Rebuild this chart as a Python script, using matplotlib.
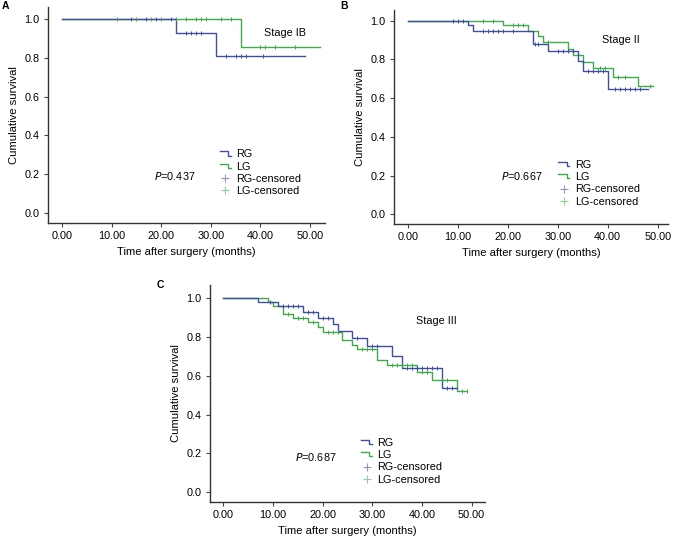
import numpy as np
import matplotlib
matplotlib.use("Agg")
import matplotlib.pyplot as plt
from matplotlib.legend_handler import HandlerBase
from matplotlib.lines import Line2D

plt.rcParams["font.family"] = ["Liberation Sans", "DejaVu Sans"]

# ── Data: Kaplan-Meier step curves (time in months, survival) ────────────────
A_RG_T = [0, 23, 31, 49]
A_RG_S = [1.0, 0.929, 0.813, 0.813]
A_LG_T = [0, 36, 52]
A_LG_S = [1.0, 0.857, 0.857]
A_RG_CENS = [14, 17, 19, 22, 25, 26, 27, 28, 33, 35, 36, 37, 40.6]
A_LG_CENS = [11, 15, 18, 20, 23, 25, 27, 28, 29, 32, 34, 40, 41, 43, 47]

B_RG_T = [0, 12, 13, 25, 28, 34, 35, 40, 48]
B_RG_S = [1.0, 0.976, 0.948, 0.881, 0.843, 0.792, 0.740, 0.647, 0.647]
B_LG_T = [0, 19, 24, 26, 27, 32, 33, 35, 37, 41, 46, 49]
B_LG_S = [1.0, 0.976, 0.948, 0.921, 0.888, 0.852, 0.823, 0.788, 0.754, 0.711, 0.664, 0.664]
B_RG_CENS = [9, 10, 11, 15, 16, 17, 18, 19, 21, 25.5, 26, 30, 31, 32, 33,
             36, 37, 38, 39, 41.5, 42.5, 43.5, 44.5, 45.5, 46.5]
B_LG_CENS = [15, 17, 21, 22, 23, 28, 38.5, 39.5, 42, 43.5, 48.5]

C_RG_T = [0, 7, 11, 16, 19, 22, 23, 26, 29, 34, 36, 44, 47]
C_RG_S = [1.0, 0.979, 0.960, 0.931, 0.901, 0.867, 0.832, 0.793, 0.753, 0.703, 0.642, 0.537, 0.537]
C_LG_T = [0, 9, 10, 12, 14, 17, 19, 20, 24, 26, 27, 31, 33, 39, 42, 47, 49]
C_LG_S = [1.0, 0.979, 0.960, 0.919, 0.896, 0.876, 0.850, 0.827, 0.784, 0.761, 0.736,
          0.680, 0.654, 0.619, 0.576, 0.519, 0.519]
C_RG_CENS = [9.5, 12, 13, 14, 15, 17, 18, 20, 21, 27, 30, 31,
             37, 38, 39, 40, 41, 42, 43, 45, 46]
C_LG_CENS = [13, 15, 16, 18, 21, 22, 23, 28, 29, 30, 34, 35, 36, 37, 38,
             40, 41, 44, 45, 48, 49]

STAGES = ["Stage IB", "Stage II", "Stage III"]
P_VALUES = ["0.437", "0.667", "0.687"]
XTICKS = [0, 10, 20, 30, 40, 50]
YTICKS = [0.0, 0.2, 0.4, 0.6, 0.8, 1.0]

RG_COL = "#3f4fa0"
LG_COL = "#3eaa4c"
RG_CEN = "#8e95bb"
LG_CEN = "#8fcf98"
FS = 7.8

W, H = 673, 543


class StepHandler(HandlerBase):
    def create_artists(self, legend, orig, xd, yd, width, height, fontsize, trans):
        x = [xd, xd + width * 0.75, xd + width * 0.75, xd + width]
        y = [yd + height * 0.75, yd + height * 0.75, yd + height * 0.2, yd + height * 0.2]
        ln = Line2D(x, y, color=orig.get_color(), lw=1.0, transform=trans)
        return [ln]


def surv_at(t, times, surv):
    idx = np.searchsorted(times, t, side="right") - 1
    return np.asarray(surv)[idx]


def panel(box, xlim, ylim, rg, lg, stage, stage_xy, pval, p_xy, leg_anchor, letter, letter_xy):
    l, t, r, b = box
    ax = fig.add_axes([l / W, 1 - b / H, (r - l) / W, (b - t) / H])
    rg_t, rg_s, rg_c = rg
    lg_t, lg_s, lg_c = lg
    h_rg, = ax.plot(rg_t, rg_s, drawstyle="steps-post", color=RG_COL, lw=1.0, zorder=3)
    h_lg, = ax.plot(lg_t, lg_s, drawstyle="steps-post", color=LG_COL, lw=1.0, zorder=2)
    ax.plot(rg_c, surv_at(rg_c, rg_t, rg_s), ls="none", marker="|", ms=3.5,
            mew=0.7, color=RG_COL, zorder=4)
    ax.plot(lg_c, surv_at(lg_c, lg_t, lg_s), ls="none", marker="|", ms=3.5,
            mew=0.7, color=LG_COL, zorder=4)
    c_rg = Line2D([], [], ls="none", marker="+", ms=6, mew=0.8, color=RG_CEN)
    c_lg = Line2D([], [], ls="none", marker="+", ms=6, mew=0.8, color=LG_CEN)
    ax.legend([h_rg, h_lg, c_rg, c_lg], ["RG", "LG", "RG-censored", "LG-censored"],
              handler_map={h_rg: StepHandler(), h_lg: StepHandler()},
              loc="upper left", bbox_to_anchor=leg_anchor, frameon=False,
              fontsize=FS, handlelength=1.0, handletextpad=0.5,
              labelspacing=0.22, borderpad=0, borderaxespad=0)
    ax.set_xlim(*xlim)
    ax.set_ylim(*ylim)
    ax.set_xticks(XTICKS)
    ax.set_xticklabels([f"{v:.2f}" for v in XTICKS])
    ax.set_yticks(YTICKS)
    ax.set_yticklabels([f"{v:.1f}" for v in YTICKS])
    ax.tick_params(labelsize=FS, length=3, width=0.8, color="#444444", pad=3)
    for s in ("top", "right"):
        ax.spines[s].set_visible(False)
    for s in ("left", "bottom"):
        ax.spines[s].set_linewidth(1.0)
        ax.spines[s].set_color("#333333")
    ax.set_xlabel("Time after surgery (months)", fontsize=FS + 0.3, labelpad=4)
    ax.set_ylabel("Cumulative survival", fontsize=FS + 0.3, labelpad=4)
    ax.text(*stage_xy, stage, fontsize=FS, ha="center", va="center")
    ax.text(*p_xy, "$\\mathit{P}$=" + pval, fontsize=FS, ha="left", va="center")
    fig.text(letter_xy[0] / W, 1 - letter_xy[1] / H, letter, fontsize=7.5,
             fontweight="bold", ha="left", va="top")
    return ax


fig = plt.figure(figsize=(W / 100, H / 100), dpi=100)

panel((48, 7, 325, 223), (-2.82, 53.0), (-0.053, 1.064),
      (A_RG_T, A_RG_S, A_RG_CENS), (A_LG_T, A_LG_S, A_LG_CENS),
      STAGES[0], (45, 0.93), P_VALUES[0], (18.5, 0.19), (0.62, 0.342), "A", (2, 1))

panel((394, 10, 668, 224), (-2.74, 52.06), (-0.05, 1.055),
      (B_RG_T, B_RG_S, B_RG_CENS), (B_LG_T, B_LG_S, B_LG_CENS),
      STAGES[1], (42.7, 0.90), P_VALUES[1], (18.7, 0.198), (0.6, 0.301), "B", (340, 1))

panel((210, 285, 485, 502), (-2.68, 52.7), (-0.052, 1.069),
      (C_RG_T, C_RG_S, C_RG_CENS), (C_LG_T, C_LG_S, C_LG_CENS),
      STAGES[2], (43, 0.883), P_VALUES[2], (14.4, 0.18), (0.55, 0.297), "C", (157, 280))

fig.savefig("out.png", dpi=100)
